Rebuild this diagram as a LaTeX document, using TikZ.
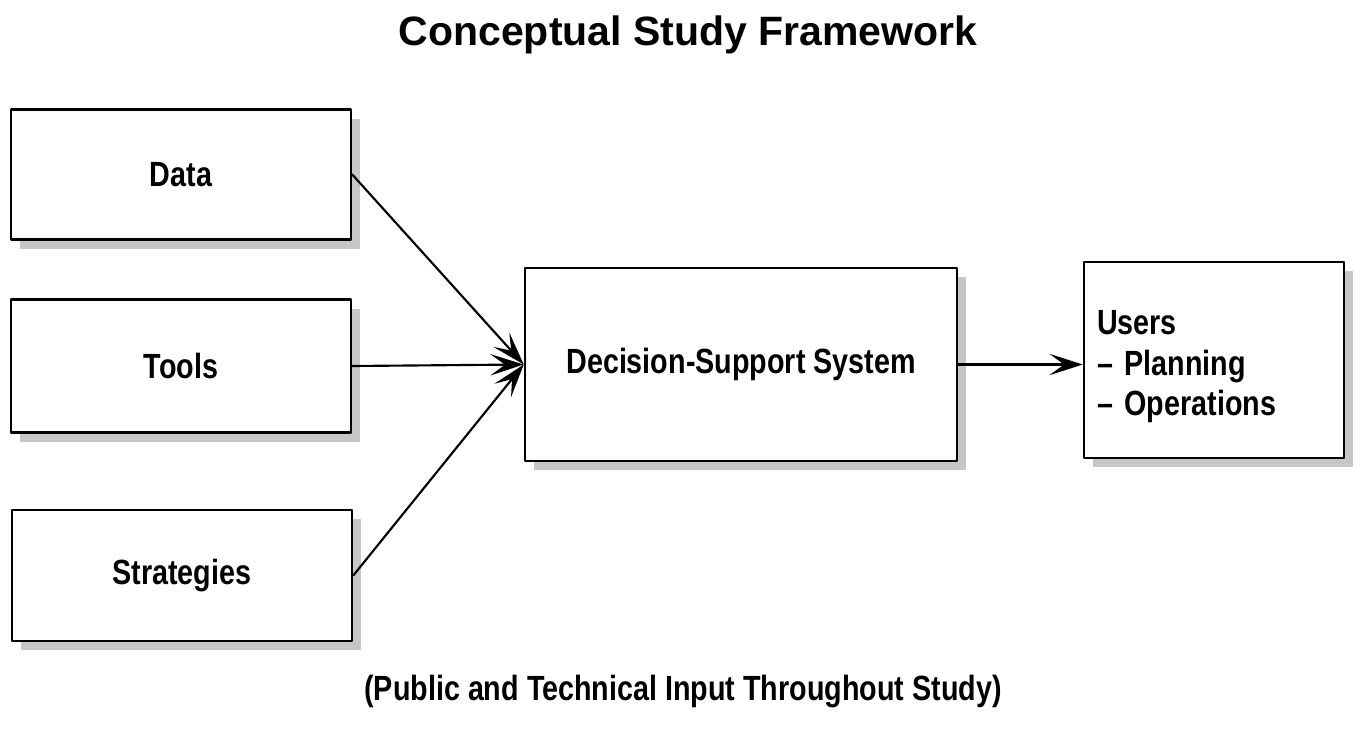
\documentclass[tikz,border=0pt]{standalone}
\usepackage{fontspec}
\setmainfont{Liberation Sans}[FakeStretch=0.82]
\newfontfamily\titlefont{Liberation Sans}
\usetikzlibrary{arrows.meta,shadows}

\tikzset{every picture/.style={line width=0.75pt}}

\begin{document}
\begin{tikzpicture}[x=0.75pt, y=-0.75pt,
                    line cap=round, line join=round,
                    box/.style={draw, fill=white, line width=1.9pt, inner sep=0pt,
                                font=\bfseries\fontsize{26.25}{30.4}\selectfont,
                                drop shadow={shadow xshift=7pt, shadow yshift=-7pt,
                                             fill=gray!45, opacity=1}},
                    link/.style={line width=1.6pt,
                                 -{Stealth[length=25pt, width=16pt, inset=11pt]}}]
  \def\px{0.75pt}
  \useasboundingbox (0,0) rectangle (1363,750);

  % heading
  \node[font=\titlefont\bfseries\fontsize{30.75}{36}\selectfont, anchor=base]
    (title) at (688,45) {Conceptual Study Framework};

  % inputs
  \node[box, minimum width=340*\px, minimum height=130*\px] (data) at (181,174.5) {Data};
  \node[box, minimum width=340*\px, minimum height=133*\px] (tools) at (181,366) {Tools};
  \node[box, minimum width=340*\px, minimum height=131*\px] (strategies) at (182,575.5) {Strategies};

  % system and users
  \node[box, minimum width=432*\px, minimum height=193*\px] (dss) at (741,364.5)
    {Decision-Support System};
  \node[box, minimum width=260*\px, minimum height=196*\px,
        text width=234*\px, align=left] (users) at (1214,360)
    {\rule{0pt}{28pt}Users\\– Planning\\– Operations};

  % connectors
  \draw[link] (data.east) -- (dss.west);
  \draw[link] (tools.east) -- (dss.west);
  \draw[link] (strategies.east) -- (dss.west);
  \draw[link] (dss.east) -- (dss.east -| users.west);

  % footnote
  \node[font=\bfseries\fontsize{26.25}{30}\selectfont, anchor=base]
    (note) at (683,700) {(Public and Technical Input Throughout Study)};

\end{tikzpicture}
\end{document}
